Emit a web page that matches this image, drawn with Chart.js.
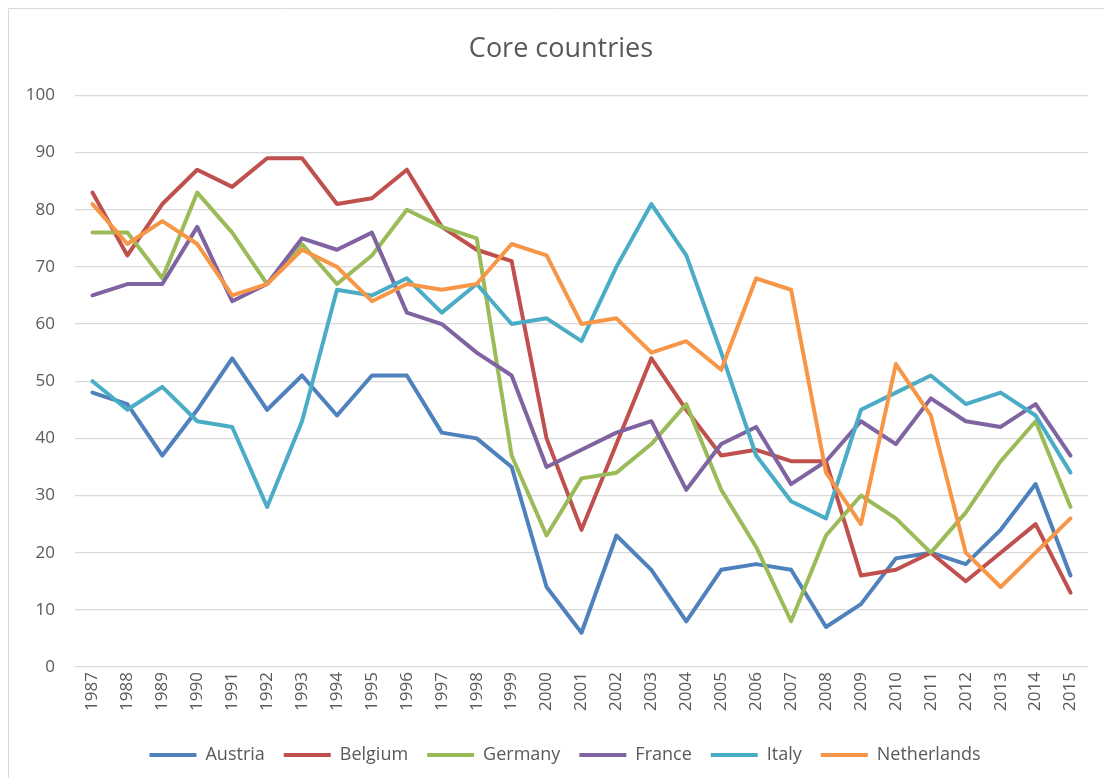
<!DOCTYPE html>
<html>
<head>
<meta charset="utf-8">
<title>Core countries</title>
<script src="https://cdn.jsdelivr.net/npm/chart.js@4/dist/chart.umd.min.js"></script>
<style>
body { margin: 0; background: #fff; }
#chart { display: block; }
</style>
</head>
<body>
<canvas id="chart" width="1104" height="778" role="img" aria-label="Core countries"></canvas>
<script>
'use strict';

const years = [
    '1987', '1988', '1989', '1990', '1991', '1992', '1993', '1994', '1995', '1996',
    '1997', '1998', '1999', '2000', '2001', '2002', '2003', '2004', '2005', '2006',
    '2007', '2008', '2009', '2010', '2011', '2012', '2013', '2014', '2015',
];
const countries = [ 'Austria', 'Belgium', 'Germany', 'France', 'Italy', 'Netherlands' ];
const austria = [ 48, 46, 37, 45, 54, 45, 51, 44, 51, 51, 41, 40, 35, 14, 6, 23, 17, 8, 17, 18, 17, 7, 11, 19, 20, 18, 24, 32, 16 ];
const belgium = [ 83, 72, 81, 87, 84, 89, 89, 81, 82, 87, 77, 73, 71, 40, 24, 39, 54, 45, 37, 38, 36, 36, 16, 17, 20, 15, 20, 25, 13 ];
const germany = [ 76, 76, 68, 83, 76, 67, 74, 67, 72, 80, 77, 75, 37, 23, 33, 34, 39, 46, 31, 21, 8, 23, 30, 26, 20, 27, 36, 43, 28 ];
const france = [ 65, 67, 67, 77, 64, 67, 75, 73, 76, 62, 60, 55, 51, 35, 38, 41, 43, 31, 39, 42, 32, 36, 43, 39, 47, 43, 42, 46, 37 ];
const italy = [ 50, 45, 49, 43, 42, 28, 43, 66, 65, 68, 62, 67, 60, 61, 57, 70, 81, 72, 55, 37, 29, 26, 45, 48, 51, 46, 48, 44, 34 ];
const netherlands = [ 81, 74, 78, 74, 65, 67, 73, 70, 64, 67, 66, 67, 74, 72, 60, 61, 55, 57, 52, 68, 66, 34, 25, 53, 44, 20, 14, 20, 26 ];
const colors = [ '#4f81bd', '#c0504d', '#9bbb59', '#8064a2', '#4bacc6', '#f79646' ];
const yTicks = [ 0, 10, 20, 30, 40, 50, 60, 70, 80, 90, 100 ];

const textColor = '#595959';
const gridColor = '#d9d9d9';
const fontFamily = '"Open Sans", "Noto Sans", sans-serif';

/**
 * グラフ外枠 (上と左だけ見えている) を描き、タイトルと凡例を少し右へずらす
 */
const framePlugin = {
    id: 'frame',
    afterLayout(chart) {
        // 元の図ではタイトルと凡例の中心が描画領域より右にある
        chart.titleBlock.left += 13;
        chart.titleBlock.right += 13;
        chart.legend.left += 17;
        chart.legend.right += 17;
    },
    beforeDraw(chart) {
        const ctx = chart.ctx;
        ctx.save();
        ctx.fillStyle = '#ffffff';
        ctx.fillRect(0, 0, chart.width, chart.height);
        ctx.strokeStyle = gridColor;
        ctx.lineWidth = 1;
        ctx.beginPath();
        ctx.moveTo(8.5, chart.height);
        ctx.lineTo(8.5, 8.5);
        ctx.lineTo(chart.width, 8.5);
        ctx.stroke();
        ctx.restore();
    },
};

/**
 * 各国の系列を dataset にする
 *
 * @returns { object[] } Chart.js の datasets
 */
function
makeDatasets()
{
    const series = [ austria, belgium, germany, france, italy, netherlands ];
    return series.map((data, i) => ({
        label: countries[i],
        data,
        borderColor: colors[i],
        backgroundColor: colors[i],
        borderWidth: 4,
        borderJoinStyle: 'round',
        borderCapStyle: 'round',
        pointRadius: 0,
        pointHoverRadius: 0,
        tension: 0,
        fill: false,
        // 後の系列を上に重ねる
        order: series.length - 1 - i,
    }));
}

function
main()
{
    const canvas = document.getElementById('chart');
    return new Chart(canvas, {
        type: 'line',
        data: { labels: years, datasets: makeDatasets() },
        plugins: [ framePlugin ],
        options: {
            responsive: false,
            animation: false,
            devicePixelRatio: 1,
            layout: { padding: { left: 8, right: 16, top: 0, bottom: 4 } },
            plugins: {
                title: {
                    display: true,
                    text: 'Core countries',
                    color: textColor,
                    font: { family: fontFamily, size: 27, weight: 'normal' },
                    padding: { top: 33, bottom: 30 },
                },
                legend: {
                    position: 'bottom',
                    labels: {
                        color: textColor,
                        font: { family: fontFamily, size: 18 },
                        boxWidth: 47,
                        boxHeight: 4,
                        padding: 19,
                        sort: (a, b) => a.datasetIndex - b.datasetIndex,
                        generateLabels(chart) {
                            const items = Chart.defaults.plugins.legend.labels.generateLabels(chart);
                            items.forEach(item => {
                                item.lineWidth = 0;
                                item.fillStyle = item.strokeStyle;
                            });
                            return items;
                        },
                    },
                },
                tooltip: { enabled: false },
            },
            scales: {
                x: {
                    type: 'category',
                    offset: true,
                    grid: { display: false, drawTicks: false },
                    border: { display: false },
                    ticks: {
                        color: textColor,
                        font: { family: fontFamily, size: 17 },
                        minRotation: 90,
                        maxRotation: 90,
                        autoSkip: false,
                        padding: 5,
                    },
                    afterFit(scale) { scale.height = 60; },
                },
                y: {
                    min: 0,
                    max: 100,
                    grid: { color: gridColor, lineWidth: 1.3, drawTicks: false },
                    border: { display: false },
                    afterBuildTicks(scale) {
                        scale.ticks = yTicks.map(value => ({ value }));
                    },
                    ticks: {
                        color: textColor,
                        font: { family: fontFamily, size: 17 },
                        padding: 20,
                    },
                    afterFit(scale) { scale.width = 67; },
                },
            },
        },
    });
}

main();
/* ex: se et ts=4 : */
</script>
</body>
</html>
